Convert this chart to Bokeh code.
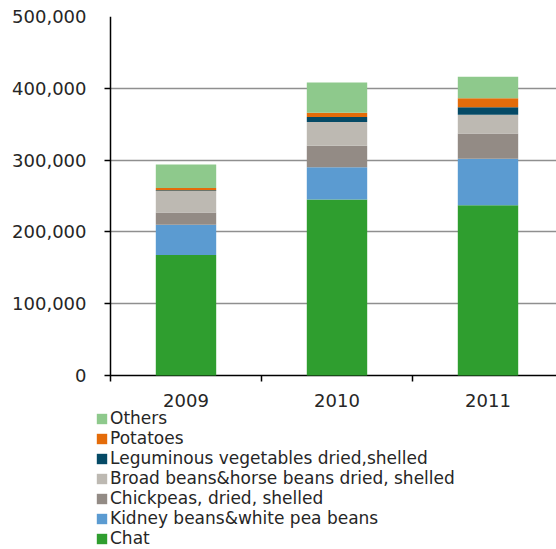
from bokeh.plotting import figure
from bokeh.models import (Range1d, FixedTicker, NumeralTickFormatter,
                          Legend, LegendItem, Grid)
from bokeh.core.properties import value
from bokeh.embed import file_html
from bokeh.resources import INLINE

years = ["2009", "2010", "2011"]
chat = [168000, 245000, 237000]
kidney = [42000, 45000, 65000]
chickpeas = [17000, 30000, 35000]
broad = [30000, 33000, 26000]
leguminous = [1000, 7000, 10500]
potatoes = [3000, 6000, 12500]
others = [33000, 42000, 30000]

series_names = ["Chat", "Kidney beans&white pea beans", "Chickpeas, dried, shelled",
                "Broad beans&horse beans dried, shelled", "Leguminous vegetables dried,shelled",
                "Potatoes", "Others"]
series_vals = [chat, kidney, chickpeas, broad, leguminous, potatoes, others]
colors = ["#2f9e2f", "#5b9bd1", "#938b85", "#bdb9b2", "#054a66", "#e46c0a", "#8ec98c"]
y_ticks = [0, 100000, 200000, 300000, 400000, 500000]

FONT = "DejaVu Sans"
TXT = "#262626"
PX = 151.0            # pixels per category slot
YMAX = 500000
PLOT_H = 359.0        # pixels from 0 to YMAX
BOTTOM_PX = 174.0     # pixels below the zero line
YPX = YMAX / PLOT_H   # data units per pixel

xc = [i + 0.5 for i in range(len(years))]
data = {"x": xc}
keys = []
for i, v in enumerate(series_vals):
    k = "s%d" % i
    keys.append(k)
    data[k] = v

x_end = (556 - 110) / PX
tick_x = 6 / PX
tick_y = 6 * YPX

p = figure(width=556, height=549, output_backend="svg", toolbar_location=None,
           x_range=Range1d(-15 / PX, x_end), y_range=Range1d(-BOTTOM_PX * YPX, YMAX),
           x_axis_location=None, min_border_left=95, min_border_right=0,
           min_border_top=16, min_border_bottom=0)
p.outline_line_color = None
p.xgrid.visible = False
p.ygrid.visible = False

p.add_layout(Grid(dimension=1, ticker=FixedTicker(ticks=y_ticks[1:-1]), cross_bounds=(0, x_end),
                  grid_line_color="#8f8f8f", grid_line_width=1.5))
p.add_layout(Grid(dimension=1, ticker=FixedTicker(ticks=y_ticks[-1:]), cross_bounds=(0, x_end),
                  grid_line_color="#1a1a1a", grid_line_width=1.5))
# y tick marks
p.add_layout(Grid(dimension=1, ticker=FixedTicker(ticks=y_ticks), cross_bounds=(-tick_x, 0),
                  grid_line_color="black", grid_line_width=1.5))
# x axis line
p.add_layout(Grid(dimension=1, ticker=FixedTicker(ticks=[0]), cross_bounds=(0, x_end),
                  grid_line_color="black", grid_line_width=1.5))
# x tick marks between categories
p.add_layout(Grid(dimension=0, ticker=FixedTicker(ticks=[1, 2]), cross_bounds=(-tick_y, 0),
                  grid_line_color="black", grid_line_width=1.5))
# y axis line
p.add_layout(Grid(dimension=0, ticker=FixedTicker(ticks=[0]), cross_bounds=(-tick_y, YMAX),
                  grid_line_color="black", grid_line_width=1.5))

rs = p.vbar_stack(keys, x="x", width=0.4, color=colors, line_color=None, source=data)

p.text(x=xc, y=[0] * len(xc), text=years, y_offset=25, text_align="center",
       text_baseline="middle", text_font=value(FONT), text_font_size="18px", text_color=TXT)

ya = p.yaxis[0]
ya.ticker = FixedTicker(ticks=y_ticks)
ya.formatter = NumeralTickFormatter(format="0,0")
ya.axis_line_color = None
ya.major_tick_line_color = None
ya.minor_tick_line_color = None
ya.major_label_standoff = 3
ya.major_label_text_font = FONT
ya.major_label_text_font_size = "18px"
ya.major_label_text_color = TXT

items = [LegendItem(label=n, renderers=[r]) for n, r in zip(series_names, rs)][::-1]
legend = Legend(items=items, location=(0, 1), glyph_width=13, glyph_height=13,
                label_height=20, spacing=0, padding=0, margin=0, label_standoff=2,
                label_text_font=FONT, label_text_font_size="17px", label_text_color=TXT,
                border_line_color=None, background_fill_alpha=0)
p.add_layout(legend)

open("out.html", "w").write(file_html(p, INLINE))
